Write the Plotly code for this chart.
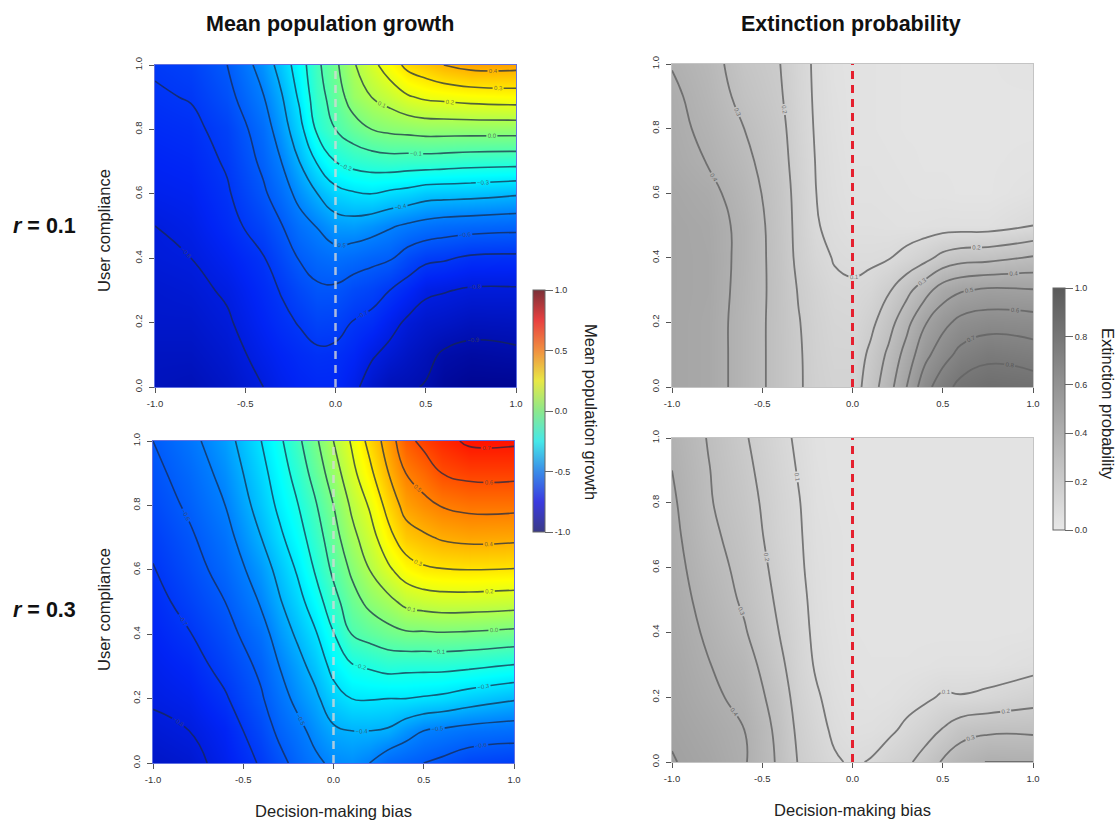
import numpy as np
import plotly.graph_objects as go

bias_values = [-1, -0.8, -0.6, -0.4, -0.3, -0.2, -0.1, 0, 0.1, 0.2, 0.3, 0.4, 0.5, 0.6, 0.75, 1]
compliance_values = [0, 0.1, 0.2, 0.3, 0.4, 0.5, 0.6, 0.7, 0.8, 0.9, 1]
zero_bias = [0, 0]
bias_ticks = [-1, -0.5, 0, 0.5, 1]
bias_tick_labels = ["-1.0", "-0.5", "0.0", "0.5", "1.0"]
compliance_ticks = [0, 0.2, 0.4, 0.6, 0.8, 1]
compliance_tick_labels = ["0.0", "0.2", "0.4", "0.6", "0.8", "1.0"]
growth_bar_labels = ["-1.0", "-0.5", "0.0", "0.5", "1.0"]

# one list per bias value, running from compliance 0 to compliance 1
growth_r01 = [
    [-.87, -.86, -.84, -.83, -.81, -.80, -.77, -.75, -.73, -.71, -.69],
    [-.88, -.86, -.84, -.82, -.80, -.78, -.76, -.74, -.72, -.695, -.67],
    [-.85, -.83, -.81, -.79, -.76, -.73, -.71, -.69, -.67, -.63, -.60],
    [-.80, -.775, -.75, -.73, -.705, -.66, -.615, -.58, -.55, -.505, -.46],
    [-.77, -.75, -.72, -.695, -.65, -.605, -.55, -.50, -.45, -.41, -.36],
    [-.75, -.73, -.695, -.65, -.595, -.54, -.47, -.40, -.335, -.285, -.25],
    [-.74, -.715, -.665, -.615, -.56, -.495, -.40, -.29, -.18, -.14, -.12],
    [-.74, -.72, -.67, -.615, -.54, -.445, -.335, -.20, -.10, -.055, -.02],
    [-.78, -.745, -.705, -.645, -.555, -.44, -.31, -.165, -.045, .05, .09],
    [-.84, -.79, -.725, -.665, -.575, -.46, -.30, -.15, 0, .10, .17],
    [-.88, -.825, -.77, -.70, -.59, -.49, -.32, -.14, .02, .14, .25],
    [-.89, -.855, -.815, -.74, -.645, -.515, -.335, -.145, .03, .19, .325],
    [-.905, -.88, -.84, -.785, -.68, -.535, -.36, -.145, .04, .215, .36],
    [-.94, -.91, -.85, -.795, -.69, -.55, -.365, -.15, .04, .225, .40],
    [-.96, -.925, -.87, -.81, -.715, -.56, -.37, -.16, .04, .24, .43],
    [-.96, -.915, -.865, -.81, -.72, -.57, -.39, -.165, .04, .25, .43],
]
growth_r03 = [
    [-.85, -.82, -.79, -.77, -.75, -.73, -.705, -.68, -.65, -.625, -.60],
    [-.83, -.80, -.77, -.74, -.705, -.67, -.64, -.615, -.585, -.56, -.53],
    [-.77, -.75, -.71, -.67, -.635, -.60, -.565, -.535, -.50, -.47, -.44],
    [-.69, -.65, -.61, -.58, -.54, -.49, -.45, -.40, -.36, -.33, -.30],
    [-.63, -.58, -.54, -.50, -.455, -.41, -.37, -.32, -.28, -.25, -.22],
    [-.57, -.53, -.475, -.435, -.385, -.335, -.29, -.245, -.205, -.165, -.125],
    [-.52, -.47, -.42, -.365, -.31, -.25, -.19, -.15, -.11, -.06, -.02],
    [-.48, -.415, -.34, -.27, -.205, -.135, -.08, -.04, 0, .05, .10],
    [-.47, -.40, -.30, -.21, -.10, -.04, .015, .07, .115, .17, .21],
    [-.50, -.40, -.295, -.19, -.065, .025, .10, .155, .21, .275, .33],
    [-.56, -.41, -.30, -.17, -.035, .07, .18, .265, .33, .395, .44],
    [-.58, -.46, -.30, -.175, -.015, .125, .25, .355, .435, .50, .57],
    [-.60, -.50, -.31, -.175, -.015, .145, .285, .385, .475, .545, .625],
    [-.62, -.515, -.32, -.175, -.01, .155, .295, .41, .505, .60, .67],
    [-.66, -.535, -.35, -.185, -.015, .155, .30, .425, .525, .625, .715],
    [-.68, -.55, -.39, -.21, -.03, .145, .295, .42, .525, .625, .715],
]
extinction_r01 = [
    [.47, .47, .47, .47, .47, .47, .46, .44, .43, .42, .395],
    [.45, .45, .45, .455, .455, .45, .43, .395, .375, .355, .34],
    [.36, .36, .36, .365, .37, .37, .35, .325, .30, .27, .25],
    [.26, .26, .26, .26, .255, .25, .245, .235, .225, .21, .20],
    [.21, .21, .205, .195, .18, .175, .17, .16, .15, .14, .135],
    [.17, .165, .16, .15, .125, .105, .10, .095, .09, .087, .085],
    [.15, .14, .13, .115, .095, .08, .07, .065, .06, .055, .05],
    [.15, .14, .125, .11, .085, .06, .05, .045, .04, .04, .04],
    [.25, .22, .175, .13, .085, .06, .05, .045, .04, .04, .04],
    [.36, .32, .26, .19, .095, .055, .045, .04, .035, .035, .035],
    [.50, .44, .37, .27, .13, .05, .04, .035, .03, .03, .03],
    [.66, .57, .49, .36, .17, .055, .035, .03, .03, .03, .03],
    [.76, .66, .57, .45, .23, .06, .035, .03, .03, .03, .03],
    [.83, .73, .63, .49, .26, .06, .03, .03, .03, .03, .03],
    [.86, .775, .655, .515, .27, .06, .03, .03, .03, .03, .03],
    [.85, .75, .645, .505, .31, .10, .05, .035, .03, .03, .04],
]
extinction_r03 = [
    [.505, .49, .475, .465, .455, .445, .435, .425, .415, .40, .385],
    [.47, .45, .425, .405, .385, .365, .345, .325, .31, .305, .295],
    [.41, .40, .37, .345, .31, .285, .27, .255, .24, .225, .21],
    [.28, .27, .25, .22, .195, .18, .165, .15, .145, .135, .125],
    [.195, .18, .16, .145, .135, .125, .115, .11, .105, .095, .085],
    [.15, .13, .11, .09, .08, .075, .07, .065, .06, .055, .05],
    [.11, .085, .07, .06, .055, .05, .05, .05, .045, .04, .04],
    [.09, .06, .05, .045, .04, .04, .04, .04, .04, .04, .04],
    [.105, .065, .045, .04, .035, .035, .035, .035, .035, .035, .035],
    [.15, .08, .05, .04, .035, .035, .035, .035, .035, .035, .035],
    [.18, .12, .065, .04, .035, .035, .035, .035, .035, .035, .035],
    [.24, .155, .085, .045, .035, .035, .035, .035, .035, .035, .035],
    [.31, .205, .11, .05, .035, .035, .035, .035, .035, .035, .035],
    [.36, .26, .105, .05, .035, .035, .035, .035, .035, .035, .035],
    [.405, .28, .12, .05, .035, .035, .035, .035, .035, .035, .035],
    [.40, .28, .16, .07, .04, .035, .035, .035, .035, .035, .035],
]

W, H = 1120, 820
jet = [[0, "#00007F"], [.125, "#0024F5"], [.25, "#007FFF"], [.375, "#00FFFF"],
       [.5, "#7FFF7F"], [.625, "#FFFF00"], [.75, "#FF7F00"], [.875, "#FF0000"], [1, "#7F0000"]]
jet_muted = [[0, "#3A3A86"], [.125, "#3A3AE0"], [.25, "#3A8CE8"], [.375, "#45E8E8"],
             [.5, "#8CE88C"], [.625, "#E8E845"], [.75, "#F09040"], [.875, "#E84040"], [1, "#7A3038"]]
grey = [[0, "#E8E8E8"], [1, "#5A5A5A"]]
FONT = "Liberation Sans"

panels = [
    dict(z=growth_r01, box=(155, 516, 65, 387), cs=jet, rng=(-1, 1), lev=(-.9, .4),
         line="rgba(25,40,70,0.72)", lw=1.6, dash="rgba(215,215,215,0.8)", dw=2.5, edge="#6070e0"),
    dict(z=extinction_r01, box=(672, 1033, 64, 387), cs=grey, rng=(0, 1), lev=(.1, .8),
         line="rgba(100,100,100,0.85)", lw=1.8, dash="#E5202F", dw=3, edge="#c4c4c4"),
    dict(z=growth_r03, box=(153, 514, 441, 763), cs=jet, rng=(-1, 1), lev=(-.8, .7),
         line="rgba(25,40,70,0.72)", lw=1.6, dash="rgba(215,215,215,0.8)", dw=2.5, edge="#6070e0"),
    dict(z=extinction_r03, box=(672, 1033, 438, 762), cs=grey, rng=(0, 1), lev=(.1, .5),
         line="rgba(100,100,100,0.85)", lw=1.8, dash="#E5202F", dw=3, edge="#c4c4c4"),
]

fig = go.Figure()
layout = {}
for i, p in enumerate(panels):
    n = "" if i == 0 else str(i + 1)
    xa, ya = f"x{n}", f"y{n}"
    z = np.array(p["z"]).T
    fig.add_trace(go.Heatmap(x=bias_values, y=compliance_values, z=z, xaxis=xa, yaxis=ya,
                             colorscale=p["cs"], zmin=p["rng"][0], zmax=p["rng"][1],
                             zsmooth="best", showscale=False, hoverinfo="skip"))
    fig.add_trace(go.Contour(x=bias_values, y=compliance_values, z=z, xaxis=xa, yaxis=ya,
                             showscale=False, hoverinfo="skip",
                             line=dict(color=p["line"], width=p["lw"], smoothing=1.3),
                             contours=dict(coloring="none", start=p["lev"][0], end=p["lev"][1] + 1e-6, size=.1,
                                           showlabels=True,
                                           labelfont=dict(size=6, color="rgba(70,70,70,0.75)", family=FONT),
                                           labelformat=".1f")))
    fig.add_trace(go.Scatter(x=zero_bias, y=[0, 1], xaxis=xa, yaxis=ya, mode="lines",
                             line=dict(color=p["dash"], width=p["dw"], dash="8px,6px"),
                             showlegend=False, hoverinfo="skip"))
    x0, x1, y0, y1 = p["box"]
    common = dict(showline=True, linecolor=p["edge"], linewidth=1, mirror=True, showgrid=False,
                  zeroline=False, ticks="outside", ticklen=5, tickcolor="#555", tickwidth=.7,
                  ticklabelstandoff=3, automargin=False,
                  tickfont=dict(size=9.5, color="#333", family=FONT))
    xtitle = dict(text="Decision-making bias", font=dict(size=16.5, color="#222", family=FONT), standoff=21) if i >= 2 else None
    layout[f"xaxis{n}"] = dict(domain=[x0 / W, x1 / W], range=[-1, 1], tickvals=bias_ticks,
                               ticktext=bias_tick_labels, anchor=ya, title=xtitle, **common)
    layout[f"yaxis{n}"] = dict(domain=[1 - y1 / H, 1 - y0 / H], range=[0, 1], tickvals=compliance_ticks,
                               ticktext=compliance_tick_labels, anchor=xa, tickangle=-90, **common)

def colorbar_trace(vals, cs, ticks, labels, left, top, bottom):
    return go.Scatter(x=[None, None], y=[None, None], mode="markers", showlegend=False, hoverinfo="skip",
                      marker=dict(color=vals, cmin=vals[0], cmax=vals[1], colorscale=cs, showscale=True,
                                  colorbar=dict(x=left / W, xanchor="left", xpad=0, ypad=0, thickness=12,
                                                lenmode="fraction", len=(bottom - top) / H,
                                                y=1 - top / H, yanchor="top",
                                                outlinecolor="#666", outlinewidth=1,
                                                ticks="outside", ticklen=8, tickcolor="#666", tickwidth=.7,
                                                tickvals=ticks, ticktext=labels,
                                                tickfont=dict(size=9, color="#333", family=FONT))))

fig.add_trace(colorbar_trace([-1, 1], jet_muted, [-1, -.5, 0, .5, 1], growth_bar_labels, 533, 290, 532))
fig.add_trace(colorbar_trace([0, 1], grey, compliance_ticks, compliance_tick_labels, 1053, 288, 530))

def note(text, px, py, size, angle=0, color="#111"):
    return dict(text=text, x=px / W, y=1 - py / H, xref="paper", yref="paper", showarrow=False,
                xanchor="center", yanchor="middle", textangle=angle, font=dict(size=size, color=color, family=FONT))

annotations = [
    note("<b>Mean population growth</b>", 330, 24, 21.5),
    note("<b>Extinction probability</b>", 851, 24, 21.5),
    note("<b><i>r</i> = 0.1</b>", 44, 226, 21.5),
    note("<b><i>r</i> = 0.3</b>", 44, 610, 21.5),
    note("User compliance", 104, 231, 16.5, -90, "#222"),
    note("User compliance", 104, 610, 16.5, -90, "#222"),
    note("Mean population growth", 591, 412, 16.5, 90, "#222"),
    note("Extinction probability", 1108, 404, 16.5, 90, "#222"),
]

fig.update_layout(width=W, height=H, margin=dict(l=0, r=0, t=0, b=0, autoexpand=False), paper_bgcolor="white", plot_bgcolor="white",
                  showlegend=False, annotations=annotations, **layout)
fig.write_html("out.html", config={"displayModeBar": False}, post_script="document.body.style.margin='0';")
